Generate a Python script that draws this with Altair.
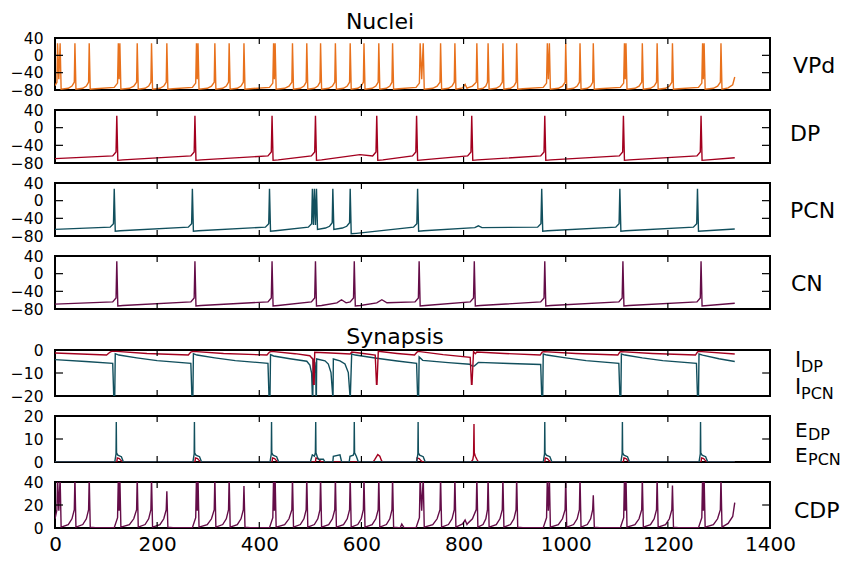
import altair as alt
import pandas as pd

FONT = "DejaVu Sans"
W = 715
T_END = 1331

# ---------------- colours ----------------
C_VPD = "#e8711c"
C_DP = "#a3001f"
C_PCN = "#114f5d"
C_CN = "#640d48"

# ---------------- axis ticks ----------------
x_labels = [0, 200, 400, 600, 800, 1000, 1200, 1400]
x_inner = [200, 400, 600, 800, 1000, 1200]

# ---------------- spike times ----------------
vpd_spikes = [5, 10, 39, 67, 124, 127, 161, 189, 219, 277, 280, 313, 341, 370,
              428, 431, 465, 493, 520, 549, 578, 605, 634, 661, 715, 721, 755,
              783, 826, 848, 877, 904, 964, 968, 1000, 1028, 1054, 1115, 1118,
              1150, 1179, 1209, 1268, 1271, 1304]
cdp_peaks = [44, 44, 44, 44, 44, 44, 44, 44, 32, 44, 44, 44, 44, 36.5,
             44, 44, 44, 44, 44, 44, 44, 44, 44, 44, 44, 44, 44,
             44, 44, 44, 44, 44, 44, 44, 44, 44, 28.5, 44, 44,
             44, 44, 37, 44, 44, 44]
dp_spikes = [121, 274, 425, 510, 630, 708, 816, 959, 1113, 1265]
pcn_spikes = [116, 269, 420, 504, 508, 512, 544, 578, 710, 953, 1106, 1258]
pcn_troughs = [-69, -69, -69, -62, -62, -65, -65, -75, -69, -69, -69, -69]
cn_spikes = [121, 274, 425, 510, 586, 713, 821, 959, 1112, 1265]

# synaptic currents (t, value)
i_pcn_t = [0, 60, 113, 115, 117, 118, 125, 160, 200, 266, 268, 270, 271, 278, 313, 353,
           417, 419, 421, 422, 428, 460, 493, 499, 502.5, 503.9, 504.8, 505.8, 509,
           510.6, 511.1, 511.8, 512.4, 528.7, 535.2, 540.4, 543.8, 544.4, 545, 558,
           567.8, 574.3, 577.6, 578.3, 580.9, 588, 630, 670, 708, 710, 712, 713, 720,
           770, 812, 816, 821, 829, 890, 951, 953, 955, 956, 963, 1000, 1040, 1104,
           1106, 1108, 1109, 1116, 1150, 1190, 1256, 1258, 1260, 1261, 1268, 1300, 1331]
i_pcn_v = [-4.2, -5.0, -5.8, -20, -20, -1.6, -2.2, -3.4, -4.6, -5.8, -20, -20, -1.6, -2.2,
           -3.4, -4.6, -5.8, -20, -20, -2.0, -2.6, -3.8, -4.9, -6.5, -10, -20, -20, -4.2,
           -5.5, -10, -20, -20, -3.9, -4.7, -6.1, -9.8, -20, -20, -3.9, -4.7, -6.1, -9.8,
           -20, -20, -1.75, -2.2, -3.6, -4.8, -5.8, -20, -20, -3.0, -4.5, -5.5, -6.2,
           -6.9, -7.0, -5.4, -5.9, -6.3, -20, -20, -1.75, -2.2, -3.4, -4.6, -5.8, -20,
           -20, -1.75, -2.2, -3.4, -4.6, -5.8, -20, -20, -1.75, -2.2, -3.8, -5.0]
i_dp_t = [0, 101, 108, 111, 121, 180, 261, 266, 270, 330, 415, 420, 424, 470, 499, 505,
          506, 507.5, 508.5, 540, 578, 581, 600, 627, 629.5, 630.5, 633, 670, 704, 709,
          711, 760, 813, 815.5, 816.5, 819.5, 823, 826, 880, 950, 954, 957, 1020, 1102,
          1106, 1108, 1170, 1254, 1258, 1260, 1331]
i_dp_v = [-1.3, -2.2, -0.9, -0.6, -0.6, -1.5, -2.2, -0.9, -0.6, -1.5, -2.2, -0.9, -0.6,
          -1.6, -2.5, -4, -14.9, -14.9, -1.0, -1.3, -1.75, -0.9, -1.4, -2.2, -14.9, -14.9,
          -0.6, -1.5, -2.2, -0.9, -0.6, -2.0, -3.2, -14.9, -14.9, -0.7, -1.6, -0.9, -1.5,
          -2.2, -0.9, -0.7, -1.5, -2.2, -0.9, -0.7, -1.5, -2.2, -0.9, -0.6, -1.75]

# synaptic conductances
e_pcn_spikes = [120, 273, 424, 711, 959, 1111, 1264]
e_pcn_burst_t = [500, 503.9, 508, 509.8, 510.5, 511, 514, 515.7, 525.5, 528.7, 544, 545,
                 558, 561.3, 576, 577.6, 584, 585.5, 586, 586.6, 590, 594]
e_pcn_burst_v = [0, 3.1, 2.5, 4, 17.4, 4, 2, 1.2, 1.2, 0, 0, 2.5, 3.1, 0, 0, 2.5, 3,
                 4, 17.4, 4, 2.5, 0]
e_dp_small = [121, 274, 425, 510, 708, 959, 1113, 1265]
e_dp_extra_t = [623, 626, 632, 636, 639, 641, 815, 818, 819.6, 820.4, 821, 823, 826, 829]
e_dp_extra_v = [0, 1, 3.2, 2.5, 0.8, 0, 0, 1, 3, 16.5, 4, 2.5, 1.2, 0]


def spike_trace(spikes, peaks, start, trough, short, long, dbl, tail, extra=()):
    pts = [(0.0, start)]
    first = spikes[0]
    if first > 45:
        pts += [(first - 8, long[1]), (first - 1.5, long[2])]
    elif first > 3:
        pts.append((first - 1.2, short[2]))
    pts.append((first, peaks[0]))
    for i in range(len(spikes) - 1):
        a, b = spikes[i], spikes[i + 1]
        g = b - a
        tr = trough[i] if isinstance(trough, list) else trough
        if g <= 7:
            pts.append((a + g / 2, dbl))
        elif g <= 45:
            pts += [(a + 2, tr), (a + 0.55 * g, short[0]), (b - 0.2 * g, short[1]),
                    (b - 1.2, short[2])]
        else:
            pts += [(a + 2, tr), (a + 12, tr + long[0]), (b - 8, long[1]),
                    (b - 1.5, long[2])]
        pts.append((b, peaks[i + 1]))
    tr = trough[-1] if isinstance(trough, list) else trough
    pts.append((spikes[-1] + 2, tr))
    pts += list(tail) + list(extra)
    pts.sort(key=lambda p: p[0])
    return pts


def pulses(times, shape):
    out = []
    for s in times:
        out += [(s + dt, v) for dt, v in shape]
    return out


vpd = spike_trace(vpd_spikes, [28] * len(vpd_spikes), -70, -78, (-76, -71, -62),
                  (1, -74, -64), -55, [(1318, -75), (1327, -68), (T_END, -50)],
                  [(798, -75), (803, -67), (808, -75)])
cdp = spike_trace(vpd_spikes, cdp_peaks, 8, 0.8, (3, 8, 16), (-0.5, 0.3, 9), 15,
                  [(1318, 4), (1327, 10), (T_END, 22)],
                  [(676, 0.3), (679, 3.5), (683, 0.5), (798, 3.5), (803, 7), (808, 4)])
dp = spike_trace(dp_spikes, [27] * len(dp_spikes), -70, -74, (-70, -66, -56),
                 (1, -64, -55), -60, [(T_END, -68)], [(597, -61)])
pcn = spike_trace(pcn_spikes, [27] * len(pcn_spikes), -65, pcn_troughs, (-62, -58, -50),
                  (1, -60, -52), -55, [(T_END, -64)], [(822, -61), (829, -57), (836, -61)])
cn = spike_trace(cn_spikes, [28] * len(cn_spikes), -69, -73, (-70, -66, -56),
                 (1, -64, -55), -60, [(T_END, -67)],
                 [(552, -66), (561, -59), (570, -66), (630, -66), (640, -59), (650, -66)])

i_pcn = list(zip(i_pcn_t, i_pcn_v))
i_dp = list(zip(i_dp_t, i_dp_v))
e_pcn = sorted([(0, 0)] + pulses(e_pcn_spikes, [(-3, 0), (-0.5, 3.5), (0, 17.4), (0.5, 4),
                                                 (3, 3), (10, 2.3), (14, 0)])
               + list(zip(e_pcn_burst_t, e_pcn_burst_v)) + [(T_END, 0)], key=lambda p: p[0])
e_dp = sorted([(0, 0)] + pulses(e_dp_small, [(0, 0), (1, 1.8), (5, 1.5), (9, 0.5), (12, 0)])
              + list(zip(e_dp_extra_t, e_dp_extra_v)) + [(T_END, 0)], key=lambda p: p[0])

xs = alt.Scale(domain=[0, 1400], nice=False, zero=False)


def text_layer(txt, x, y, size, align="left", baseline="alphabetic"):
    return alt.Chart(pd.DataFrame({"label": [txt]})).mark_text(
        align=align, baseline=baseline, fontSize=size, font=FONT, color="black"
    ).encode(text="label:N", x=alt.value(x), y=alt.value(y))


def panel(lines, ydom, yvals, yinner, h, texts, x_axis=False):
    ys = alt.Scale(domain=ydom, nice=False, zero=False)
    if x_axis:
        xaxis = alt.Axis(values=x_labels, format="d", labelFontSize=20, labelFont=FONT,
                         labelColor="black", ticks=False, tickSize=0, domain=False,
                         grid=False, labelPadding=6, labelFlush=False, title=None)
    else:
        xaxis = None
    yaxis = alt.Axis(values=yvals, labelFontSize=15.5, labelFont=FONT, labelColor="black",
                     ticks=False, tickSize=0, domain=False, grid=False, labelPadding=12,
                     labelFlush=False, title=None, minExtent=0)
    layers = []
    for pts, color in lines:
        df = pd.DataFrame({"t": [p[0] for p in pts], "v": [p[1] for p in pts],
                           "i": list(range(len(pts)))})
        layers.append(alt.Chart(df).mark_line(color=color, strokeWidth=1.4, clip=True).encode(
            x=alt.X("t:Q", scale=xs, axis=xaxis),
            y=alt.Y("v:Q", scale=ys, axis=yaxis),
            order="i:Q"))
    xt = pd.DataFrame({"t": x_inner})
    yt = pd.DataFrame({"v": yinner})
    rule = dict(color="black", strokeWidth=1.2)
    layers.append(alt.Chart(xt).mark_rule(**rule).encode(
        x=alt.X("t:Q", scale=xs, axis=xaxis), y=alt.value(0), y2=alt.value(6)))
    layers.append(alt.Chart(xt).mark_rule(**rule).encode(
        x=alt.X("t:Q", scale=xs, axis=xaxis), y=alt.value(h - 6), y2=alt.value(h)))
    layers.append(alt.Chart(yt).mark_rule(**rule).encode(
        y=alt.Y("v:Q", scale=ys, axis=yaxis), x=alt.value(0), x2=alt.value(8)))
    layers.append(alt.Chart(yt).mark_rule(**rule).encode(
        y=alt.Y("v:Q", scale=ys, axis=yaxis), x=alt.value(W - 8), x2=alt.value(W)))
    for t in texts:
        layers.append(text_layer(*t))
    return alt.layer(*layers).properties(width=W, height=h)


volt = [40, 0, -40, -80]
p1 = panel([(vpd, C_VPD)], [-80, 40], volt, [0, -40], 52,
           [("VPd", W + 23, 35, 22), ("Nuclei", 325, -9, 22, "center")])
p2 = panel([(dp, C_DP)], [-80, 40], volt, [0, -40], 53, [("DP", W + 20, 31, 22)])
p3 = panel([(pcn, C_PCN)], [-80, 40], volt, [0, -40], 53, [("PCN", W + 20, 35, 22)])
p4 = panel([(cn, C_CN)], [-80, 40], volt, [0, -40], 53, [("CN", W + 21, 35, 22)])

spacer = text_layer("Synapsis", 340, 15, 22, "center").properties(
    width=W, height=1, view=alt.ViewBackground(strokeOpacity=0, strokeWidth=0))

p5 = panel([(i_pcn, C_PCN), (i_dp, C_DP)], [-20, 0], [0, -10, -20], [-10], 46,
           [("I", W + 25, 17, 21), ("DP", W + 31, 22, 16),
            ("I", W + 25, 44, 21), ("PCN", W + 31, 49, 16)])
p6 = panel([(e_dp, C_DP), (e_pcn, C_PCN)], [0, 20], [20, 10, 0], [10], 46,
           [("E", W + 25, 21, 20), ("DP", W + 38, 24, 16),
            ("E", W + 25, 46, 20), ("PCN", W + 38, 49, 16)])
p7 = panel([(cdp, C_CN)], [0, 40], [40, 20, 0], [20], 46,
           [("CDP", W + 24, 36, 22)], x_axis=True)

chart = alt.vconcat(p1, p2, p3, p4, spacer, p5, p6, p7, spacing=20, bounds="flush").properties(
    padding={"left": 9, "top": 10, "right": 0, "bottom": 5}
).configure_view(stroke="black", strokeWidth=2)

chart.save("out.html", embed_options={"renderer": "svg", "actions": False})
